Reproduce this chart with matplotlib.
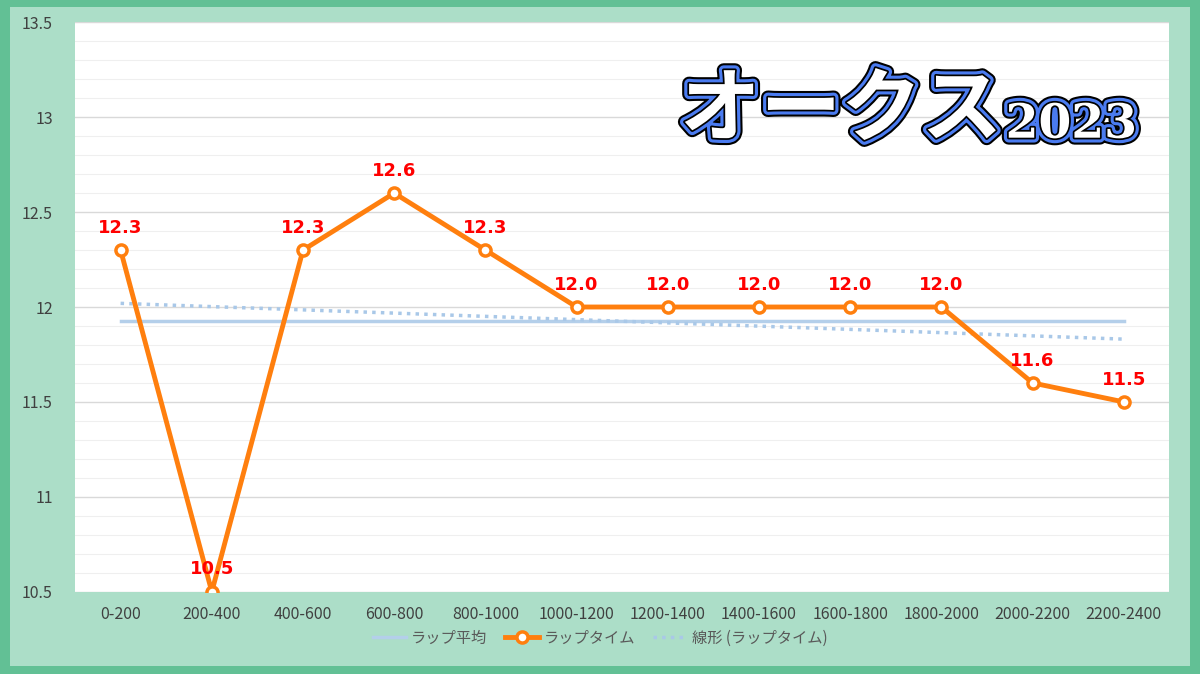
import matplotlib
matplotlib.use("Agg")
import matplotlib.pyplot as plt
import matplotlib.patheffects as pe
import numpy as np

categories = ["0-200","200-400","400-600","600-800","800-1000","1000-1200","1200-1400",
              "1400-1600","1600-1800","1800-2000","2000-2200","2200-2400"]
lap_times = [12.3,10.5,12.3,12.6,12.3,12.0,12.0,12.0,12.0,12.0,11.6,11.5]
title_main = "オークス"
title_year = "2023"

plt.rcParams['font.family'] = ['Noto Sans CJK JP', 'DejaVu Sans']

fig = plt.figure(figsize=(12, 6.74), dpi=100)
fig.patch.set_facecolor('#62C095')
bg = plt.Rectangle((0.008, 0.012), 0.984, 0.978, transform=fig.transFigure,
                   facecolor='#ACDEC8', edgecolor='none', zorder=-1)
fig.add_artist(bg)

ax = fig.add_axes([0.0625, 0.122, 0.912, 0.845])
ax.set_facecolor('white')
x = np.arange(len(categories))
avg = np.mean(lap_times)
coef = np.polyfit(x, lap_times, 1)

ax.plot(x, [avg]*len(x), color='#B4CFEA', lw=2.5, label='ラップ平均', zorder=2)
ax.plot(x, lap_times, color='#FF7F0E', lw=3.5, marker='o', ms=8, mfc='white',
        mec='#FF7F0E', mew=2.5, label='ラップタイム', zorder=4)
ax.plot(x, np.polyval(coef, x), color='#A9C8E8', lw=2.5, ls=(0, (1, 1.5)),
        label='線形 (ラップタイム)', zorder=3)

for xi, v in zip(x, lap_times):
    ax.text(xi, v + 0.07, f"{v:.1f}", ha='center', va='bottom', color='#FF0000',
            fontsize=13, fontweight='bold', family=['DejaVu Sans'], zorder=5)

ax.set_xlim(-0.5, len(x) - 0.5)
ax.set_ylim(10.5, 13.5)
ax.set_yticks(np.arange(10.5, 13.51, 0.5))
ax.set_yticklabels(['10.5', '11', '11.5', '12', '12.5', '13', '13.5'])
ax.set_yticks(np.arange(10.5, 13.5, 0.1), minor=True)
ax.grid(axis='y', which='major', color='#D9D9D9', lw=1)
ax.grid(axis='y', which='minor', color='#EFEFEF', lw=0.8)
ax.set_axisbelow(True)
ax.set_xticks(x)
ax.set_xticklabels(categories)
for s in ax.spines.values():
    s.set_visible(False)
ax.tick_params(which='both', length=0)
ax.tick_params(labelsize=11.5, colors='#404040', pad=10)
ax.tick_params(axis='y', pad=16)

leg = fig.legend(loc='lower center', bbox_to_anchor=(0.5, 0.02), ncol=3, frameon=False,
                 fontsize=11, handlelength=2.2, columnspacing=1.2, handletextpad=0.3)
for t in leg.get_texts():
    t.set_color('#595959')

effects = [pe.Stroke(linewidth=10, foreground='black'),
           pe.Stroke(linewidth=7, foreground='#4A7BF0'),
           pe.Stroke(linewidth=2.5, foreground='black'),
           pe.Normal()]
t1 = fig.text(0.835, 0.835, title_main, ha='right', va='center', fontsize=58,
              fontweight='bold', color='white', style='italic', path_effects=effects)
t2 = fig.text(0.838, 0.815, title_year, ha='left', va='center', fontsize=34,
              fontweight='bold', color='white', family=['DejaVu Serif'],
              path_effects=effects)

fig.savefig('out.png', dpi=100, facecolor=fig.get_facecolor())
